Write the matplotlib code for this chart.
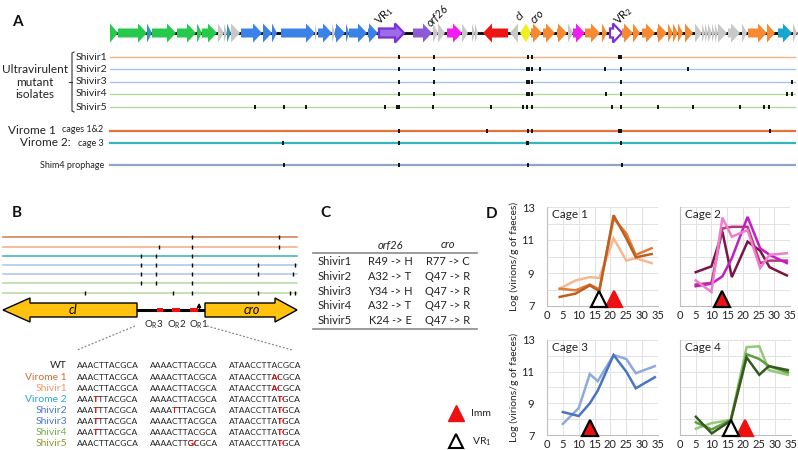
import matplotlib
matplotlib.use("Agg")
import matplotlib.pyplot as plt
from matplotlib.patches import Polygon, Rectangle
from matplotlib.transforms import Bbox

plt.rcParams['font.family'] = ['Lato', 'DejaVu Sans']
plt.rcParams['mathtext.fontset'] = 'custom'
plt.rcParams['mathtext.rm'] = 'Lato'
plt.rcParams['mathtext.it'] = 'Lato:italic'
plt.rcParams['mathtext.bf'] = 'Lato:bold'

W, H = 798, 450

# ---------------- Panel A data ----------------
gene_start = [110, 118, 147, 152, 177, 197, 202, 218, 224, 227, 231, 241, 263, 272, 281, 315, 318, 332, 335, 346, 349, 368, 379,
              413, 433, 438, 447, 462, 472, 475, 483, 510, 520, 526, 531, 543, 557, 568, 573, 585, 602, 610, 622, 633, 642, 657,
              668, 673, 678, 685, 695, 702, 705, 708, 712, 715, 718, 728, 742, 748, 767, 778, 793]
gene_end = [118, 147, 152, 176, 196, 202, 217, 224, 227, 231, 240, 262, 272, 277, 315, 317, 332, 335, 345, 349, 367, 378, 404,
            432, 438, 445, 462, 468, 475, 478, 508, 518, 526, 531, 542, 555, 567, 573, 585, 600, 607, 622, 633, 640, 655, 667,
            673, 678, 683, 693, 702, 705, 708, 712, 715, 718, 727, 740, 747, 767, 775, 792, 797]
gene_kind = ['g', 'g', 't', 'g', 'g', 'g', 'g', 'x', 'x', 't', 'x', 'b', 'b', 'b', 'b', 'x', 'b', 'x', 'b', 'b', 'b', 'b', 'V1',
             'p', 'x', 'x', 'm', 'x', 'x', 'x', 'r', 'x', 'y', 'y', 'o', 'o', 'o', 'x', 'm', 'o', 'o', 'V2', 'o', 'o', 'o', 'o',
             'o', 'o', 'o', 'o', 'x', 'x', 'x', 'x', 'x', 'x', 'x', 'x', 'x', 'o', 'o', 'c', 'x']
gene_dir = [1] * 30 + [-1, -1, -1] + [1] * 30
kind_color = {'g': '#25C94C', 't': '#2E96B8', 'x': '#C8C8C8', 'b': '#3B82E6', 'V1': '#9B6BE8', 'p': '#8B5CD6',
              'm': '#F21CF2', 'r': '#EE1414', 'y': '#F2EE22', 'o': '#F68A32', 'c': '#17A6CF', 'V2': 'white'}

gene_labels = ['VR$_1$', 'orf26', 'cI', 'cro', 'VR$_2$']
gene_label_x = [384, 438, 520, 537, 623]
gene_label_italic = [False, True, True, True, False]

track_names = ['Shivir1', 'Shivir2', 'Shivir3', 'Shivir4', 'Shivir5']
track_y = [57, 69, 82, 94, 107]
track_colors = ['#F4B48A', '#A9C5EA', '#A9C5EA', '#B7D7A0', '#B7D7A0']
track_ticks = [
    [399, 434, 528, 532, 619, 621],
    [399, 434, 527, 529, 532, 540, 605, 621, 688],
    [399, 434, 527, 529, 532, 621, 792],
    [399, 434, 527, 529, 532, 606, 621, 787, 792],
    [255, 284, 306, 385, 397, 399, 433, 491, 523, 527, 532, 612, 621, 658, 693, 740, 764, 769],
]
virome_y = [131, 143, 165]
virome_colors = ['#E2743A', '#35B6B6', '#90A3C8']
virome_ticks = [
    [399, 487, 528, 532, 619, 621, 770],
    [283, 399, 527, 528, 621],
    [284, 399, 528, 622],
]

# ---------------- Panel B data ----------------
b_line_y = [237, 247, 256, 265, 274, 283, 293]
b_line_colors = ['#CF7A45', '#F2AE82', '#35B0B0', '#A9C5EA', '#A9C5EA', '#B7D7A0', '#B7D7A0']
b_ticks = [
    [192, 279],
    [159, 192, 279],
    [141, 156, 192],
    [141, 156, 192, 258, 295],
    [141, 156, 192, 258, 293],
    [141, 156, 192],
    [85, 173, 192, 258, 290, 295],
]
seq_names = ['WT', 'Virome 1', 'Shivir1', 'Virome 2', 'Shivir2', 'Shivir3', 'Shivir4', 'Shivir5']
seq_name_colors = ['#222222', '#C5703A', '#F29A68', '#2AA6C4', '#4A78C8', '#4A78C8', '#72B046', '#8C9A2A']
seq_col1 = ['AAACTTACGCA', 'AAACTTACGCA', 'AAACTTACGCA', 'AAATTTACGCA', 'AAATTTACGCA', 'AAATTTACGCA', 'AAATTTACGCA', 'AAACTTACGCA']
seq_col2 = ['AAAACTTACGCA', 'AAAACTTACGCA', 'AAAACTTACGCA', 'AAAACTTACGCA', 'AAAATTTACGCA', 'AAAACTTACGCA', 'AAAACTTACGCA', 'AAAACTTGCGCA']
seq_col3 = ['ATAACCTTACGCA', 'ATAACCTTACGCA', 'ATAACCTTACGCA', 'ATAACCTTATGCA', 'ATAACCTTATGCA', 'ATAACCTTATGCA', 'ATAACCTTATGCA', 'ATAACCTTATGCA']
red_col1 = [None, None, None, 3, 3, 3, 3, None]
red_col2 = [None, None, None, None, 4, None, None, 7]
red_col3 = [None, 8, 8, 9, 9, 9, 9, 9]

# ---------------- Panel C data ----------------
c_isolates = ['Shivir1', 'Shivir2', 'Shivir3', 'Shivir4', 'Shivir5']
c_orf26 = ['R49 -> H', 'A32 -> T', 'Y34 -> H', 'A32 -> T', 'K24 -> E']
c_cro = ['R77 -> C', 'Q47 -> R', 'Q47 -> R', 'Q47 -> R', 'Q47 -> R']

# ---------------- Panel D data ----------------
days = [4, 9, 13.5, 16.5, 21, 25, 28, 33]
cage1 = {'#F5B890': [8.05, 8.55, 8.75, 8.7, 11.1, 9.75, 9.9, 9.6],
         '#E07C38': [8.05, 7.95, 8.3, 8.0, 12.3, 11.4, 10.1, 10.5],
         '#BD5F1F': [7.55, 7.75, 8.25, 7.9, 12.5, 11.1, 9.95, 10.15]}
days2 = [5, 10, 13.5, 16.5, 21.5, 25.5, 28.5, 34]
cage2 = {'#7D1445': [9.05, 9.4, 11.5, 8.75, 10.9, 10.35, 9.35, 8.85],
         '#B2387E': [8.3, 8.4, 11.7, 11.8, 11.8, 9.6, 9.75, 9.75],
         '#C21EC4': [8.2, 8.35, 8.8, 9.9, 12.4, 10.5, 10.1, 9.6],
         '#F07CCB': [8.55, 7.85, 12.35, 11.2, 11.6, 9.3, 10.1, 10.2]}
days3 = [5, 10, 13.5, 16, 21, 25, 28, 34]
cage3 = {'#8EAADD': [7.7, 8.7, 10.85, 10.4, 12.05, 11.8, 10.9, 11.35],
         '#4A74C2': [8.45, 8.2, 9.0, 9.8, 12.05, 11.0, 9.95, 10.65]}
days4 = [5, 10, 16, 21, 25, 28, 34]
cage4 = {'#93C978': [7.4, 7.75, 7.95, 12.55, 12.6, 11.1, 10.8],
         '#5FA03E': [7.8, 7.35, 7.95, 12.1, 11.8, 11.35, 10.95],
         '#37581F': [8.15, 7.1, 7.9, 11.9, 10.8, 11.35, 11.1]}
cage_names = ['Cage 1', 'Cage 2', 'Cage 3', 'Cage 4']
imm_day = [21, 13.5, 13.5, 20.5]
vr1_day = [16.5, 13.5, 13.5, 16]

# ================= drawing =================
fig = plt.figure(figsize=(W / 100, H / 100), dpi=100)
ax = fig.add_axes([0, 0, 1, 1])
ax.set_xlim(0, W)
ax.set_ylim(H, 0)
ax.axis('off')
renderer = fig.canvas.get_renderer()

# Panel letters
for lab, (x, y) in zip('ABCD', [(12, 22), (12, 213), (320, 213), (486, 214)]):
    ax.text(x, y, lab, fontsize=11, fontweight='bold', va='center', ha='left', color='#111111')

# ---- Panel A gene map ----
yc = 33
ax.plot([110, 797], [yc, yc], color='black', lw=2, zorder=1, solid_capstyle='butt')
for x0, x1, k, d in zip(gene_start, gene_end, gene_kind, gene_dir):
    L = x1 - x0
    hl = min(9.0, L)
    bh, hh = 4.5, 9.5
    if d > 0:
        tip, base, back = x1, x1 - hl, x0
    else:
        tip, base, back = x0, x0 + hl, x1
    if L <= 9.0:
        pts = [(back, yc - hh), (tip, yc), (back, yc + hh)]
    else:
        pts = [(back, yc - bh), (base, yc - bh), (base, yc - hh), (tip, yc), (base, yc + hh), (base, yc + bh), (back, yc + bh)]
    ec = '#7A2FD8' if k in ('V1', 'V2') else 'none'
    lw = 1.6 if k in ('V1', 'V2') else 0
    ax.add_patch(Polygon(pts, closed=True, fc=kind_color[k], ec=ec, lw=lw, zorder=2))
for lab, x, it in zip(gene_labels, gene_label_x, gene_label_italic):
    ax.text(x, 16, lab, rotation=45, fontsize=8, style='italic' if it else 'normal',
            ha='center', va='center', color='#111111')

# tracks
for name, y, c, ticks in zip(track_names, track_y, track_colors, track_ticks):
    ax.plot([110, 795], [y, y], color=c, lw=1, zorder=1)
    ax.vlines(ticks, y - 2.2, y + 2.2, color='black', lw=1.3, zorder=2)
    ax.text(76, y, name, fontsize=7.5, va='center', ha='left', color='#222222')
ax.text(35, 82, 'Ultravirulent\nmutant\nisolates', fontsize=8.5, ha='center', va='center',
        linespacing=1.15, color='#222222')
# bracket
ax.plot([74, 72, 72, 74], [52, 53, 111, 112], color='#333333', lw=0.8)
ax.plot([69, 72], [82, 82], color='#333333', lw=0.8)

for y, c, ticks in zip(virome_y, virome_colors, virome_ticks):
    ax.plot([110, 795], [y, y], color=c, lw=1.6, zorder=1)
    ax.vlines(ticks, y - 2.2, y + 2.2, color='black', lw=1.3, zorder=2)
ax.text(8, 131, 'Virome 1', fontsize=8.5, va='center', ha='left', color='#222222')
ax.text(62, 130, 'cages 1&2', fontsize=6.5, va='center', ha='left', color='#222222')
ax.text(20, 143, 'Virome 2:', fontsize=8.5, va='center', ha='left', color='#222222')
ax.text(78, 143, 'cage 3', fontsize=6.5, va='center', ha='left', color='#222222')
ax.text(104, 165, 'Shim4 prophage', fontsize=6.5, va='center', ha='right', color='#222222')

# ---- Panel B ----
for y, c, ticks in zip(b_line_y, b_line_colors, b_ticks):
    ax.plot([3, 297], [y, y], color=c, lw=1.1, zorder=1)
    ax.vlines(ticks, y - 2, y + 2, color='black', lw=1.0, zorder=2)

yb = 310
ax.plot([137, 205], [yb, yb], color='black', lw=2.2, zorder=2)
cI_pts = [(137, yb - 7), (30, yb - 7), (30, yb - 12), (3, yb), (30, yb + 12), (30, yb + 7), (137, yb + 7)]
cro_pts = [(205, yb - 7), (275, yb - 7), (275, yb - 12), (297, yb), (275, yb + 12), (275, yb + 7), (205, yb + 7)]
for pts in (cI_pts, cro_pts):
    ax.add_patch(Polygon(pts, closed=True, fc='#FFC20E', ec='black', lw=1.0, zorder=3))
for x0, x1 in [(157, 163), (172, 180), (190, 198)]:
    ax.add_patch(Rectangle((x0, yb - 1.8), x1 - x0, 3.6, fc='#EE1111', ec='none', zorder=4))
ax.annotate('', xy=(199, 300), xytext=(192, yb),
            arrowprops=dict(arrowstyle='-|>', connectionstyle='angle,angleA=0,angleB=90,rad=0',
                            color='black', lw=0.9, mutation_scale=6))
ax.text(73, yb, 'cI', style='italic', fontsize=9, ha='center', va='center')
ax.text(252, yb, 'cro', style='italic', fontsize=9, ha='center', va='center')
for lab, x in zip([r'O$_\mathrm{R}$3', r'O$_\mathrm{R}$2', r'O$_\mathrm{R}$1'], [154, 177, 199]):
    ax.text(x, 325, lab, fontsize=7, ha='center', va='center', color='#222222')
ax.plot([135, 77], [326, 350], color='#888888', lw=0.9, ls=(0, (1.5, 1.5)))
ax.plot([207, 292], [326, 350], color='#888888', lw=0.9, ls=(0, (1.5, 1.5)))

SEQ_FS = 6.1


def text_width(s):
    t = ax.text(0, 0, s, fontsize=SEQ_FS, ha='left', va='center')
    w = t.get_window_extent(renderer).width
    t.remove()
    return w


def seq_text(x, y, s, ri):
    ax.text(x, y, s, fontsize=SEQ_FS, ha='left', va='center', color='#222222')
    if ri is None:
        return
    w1 = text_width(s[:ri])
    w2 = text_width(s[:ri + 1])
    box = Bbox.from_extents(x + w1 + 0.6, H - y - 7, x + w2 + 0.9, H - y + 7)
    for dx in (0, 0.4):
        tr = ax.text(x + dx, y, s, fontsize=SEQ_FS, ha='left', va='center', color='#EE1111', zorder=3,
                     clip_on=True)
        tr.set_clip_path(None)
        tr.set_clip_box(box)


for i, name in enumerate(seq_names):
    y = 366 + i * 11.1
    ax.text(67, y, name, fontsize=7.5, ha='right', va='center', color=seq_name_colors[i])
    seq_text(77, y, seq_col1[i], red_col1[i])
    seq_text(150, y, seq_col2[i], red_col2[i])
    seq_text(229, y, seq_col3[i], red_col3[i])

# ---- Panel C ----
ax.text(390, 245, 'orf26', style='italic', fontsize=8, ha='center', va='center', color='#222222')
ax.text(448, 245, 'cro', style='italic', fontsize=8, ha='center', va='center', color='#222222')
ax.plot([313, 477], [253, 253], color='#8A8A8A', lw=1.2)
ax.plot([313, 477], [329, 329], color='#8A8A8A', lw=1.2)
for i, (n, a, b) in enumerate(zip(c_isolates, c_orf26, c_cro)):
    y = 261.5 + i * 14.8
    ax.text(318, y, n, fontsize=8, ha='left', va='center', color='#222222')
    ax.text(390, y, a, fontsize=8, ha='center', va='center', color='#222222')
    ax.text(448, y, b, fontsize=8, ha='center', va='center', color='#222222')

# legend
ax.plot([456], [413], marker='^', ms=11, color='#EE1111', mec='#EE1111', ls='none')
ax.text(471, 414, 'Imm', fontsize=7.5, ha='left', va='center', color='#222222')
ax.plot([456], [441], marker='^', ms=10, mfc='white', mec='black', mew=1.5, ls='none')
ax.text(472, 442, 'VR$_1$', fontsize=7.5, ha='left', va='center', color='#222222')

# ---- Panel D ----
def px_axes(l, r, t, b):
    return fig.add_axes([l / W, 1 - b / H, (r - l) / W, (b - t) / H])


boxes = [(547, 658, 207, 306), (680, 790, 207, 306), (547, 658, 340, 435), (680, 791, 340, 435)]
cage_data = [(days, cage1), (days2, cage2), (days3, cage3), (days4, cage4)]
for k, ((l, r, t, b), (dx, dd)) in enumerate(zip(boxes, cage_data)):
    a = px_axes(l, r, t, b)
    a.set_xlim(0, 35)
    a.set_ylim(7, 13)
    a.set_xticks(range(0, 36, 5))
    a.set_yticks(range(7, 14))
    a.grid(True, color='#E2E2E2', lw=0.7)
    a.set_axisbelow(True)
    for s in ('top', 'right'):
        a.spines[s].set_visible(False)
    for s in ('left', 'bottom'):
        a.spines[s].set_color('#BFBFBF')
        a.spines[s].set_linewidth(0.8)
    a.tick_params(length=0, labelsize=8, colors='#222222', pad=3)
    if k % 2 == 0:
        a.set_yticklabels(['7', '', '9', '', '11', '', '13'])
        a.tick_params(axis='y', pad=9)
        a.set_ylabel('Log (virions/g of faeces)', fontsize=7.5, color='#222222', labelpad=2)
    else:
        a.set_yticklabels([])
    for c, vals in dd.items():
        a.plot(dx[:len(vals)], vals, color=c, lw=1.8, solid_joinstyle='miter')
    a.text(1.5, 12.55, cage_names[k], fontsize=8.5, ha='left', va='center', color='#222222')
    a.plot([imm_day[k]], [7.45], marker='^', ms=12, mfc='#EE1111',
           mec='black' if imm_day[k] == vr1_day[k] else '#EE1111', mew=1.6, ls='none', clip_on=False, zorder=5)
    if imm_day[k] != vr1_day[k]:
        a.plot([vr1_day[k]], [7.45], marker='^', ms=11, mfc='white', mec='black', mew=1.6,
               ls='none', clip_on=False, zorder=5)

fig.savefig('out.png', dpi=100)
